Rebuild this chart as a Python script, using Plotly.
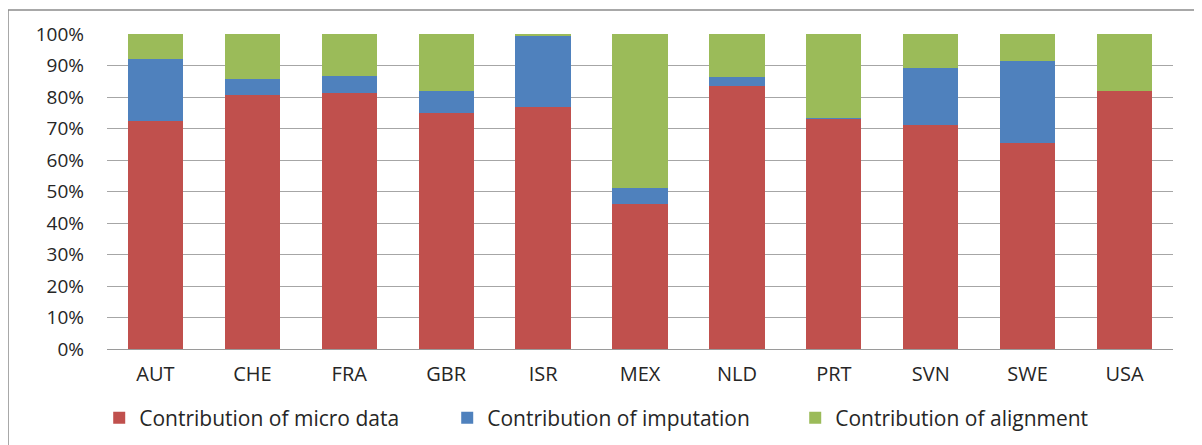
import plotly.graph_objects as go

countries = ["AUT", "CHE", "FRA", "GBR", "ISR", "MEX", "NLD", "PRT", "SVN", "SWE", "USA"]
micro_data = [72.4, 80.7, 81.3, 75.0, 76.7, 46.0, 83.5, 73.1, 71.0, 65.3, 81.9]
imputation = [19.8, 5.1, 5.5, 6.9, 22.9, 5.0, 2.7, 0.3, 18.3, 26.1, 0.0]
alignment = [round(100 - a - b, 1) for a, b in zip(micro_data, imputation)]

series_names = ["Contribution of micro data", "Contribution of imputation", "Contribution of alignment"]
series_colors = ["#C0504D", "#4F81BD", "#9BBB59"]

font_family = "'Open Sans', sans-serif"
text_color = "#262626"

fig = go.Figure()
for name, vals, col in zip(series_names, [micro_data, imputation, alignment], series_colors):
    fig.add_trace(go.Bar(x=countries, y=[v / 100 for v in vals], name=name,
                         marker=dict(color=col, line=dict(width=0))))

fig.update_layout(
    barmode="stack",
    bargap=0.43,
    width=1194, height=437,
    margin=dict(l=99, r=29, t=26, b=96, autoexpand=False),
    paper_bgcolor="white", plot_bgcolor="white",
    font=dict(family=font_family, size=19, color=text_color),
    showlegend=True,
    legend=dict(orientation="h", x=-0.0073, xanchor="left", y=-0.219, yanchor="middle",
                font=dict(size=21, color=text_color), itemwidth=30, traceorder="normal",
                entrywidth=303, entrywidthmode="pixels"),
    xaxis=dict(showgrid=False, showline=True, linecolor="#9a9a9a", linewidth=1,
               ticks="", tickfont=dict(size=20), ticklabelstandoff=7),
    yaxis=dict(range=[0, 1], tickformat=".0%", dtick=0.1, showgrid=True,
               gridcolor="#a6a6a6", gridwidth=1, zeroline=False, showline=False,
               ticks="", tickfont=dict(size=19), ticklabelstandoff=22),
    shapes=[dict(type="rect", xref="paper", yref="paper", xsizemode="pixel", ysizemode="pixel",
                 xanchor=0, yanchor=1, x0=-99, x1=1093, y0=-420, y1=24,
                 line=dict(color="#8c8c8c", width=1.5), fillcolor="rgba(0,0,0,0)", layer="below")],
)

fig.write_html("out.html")
